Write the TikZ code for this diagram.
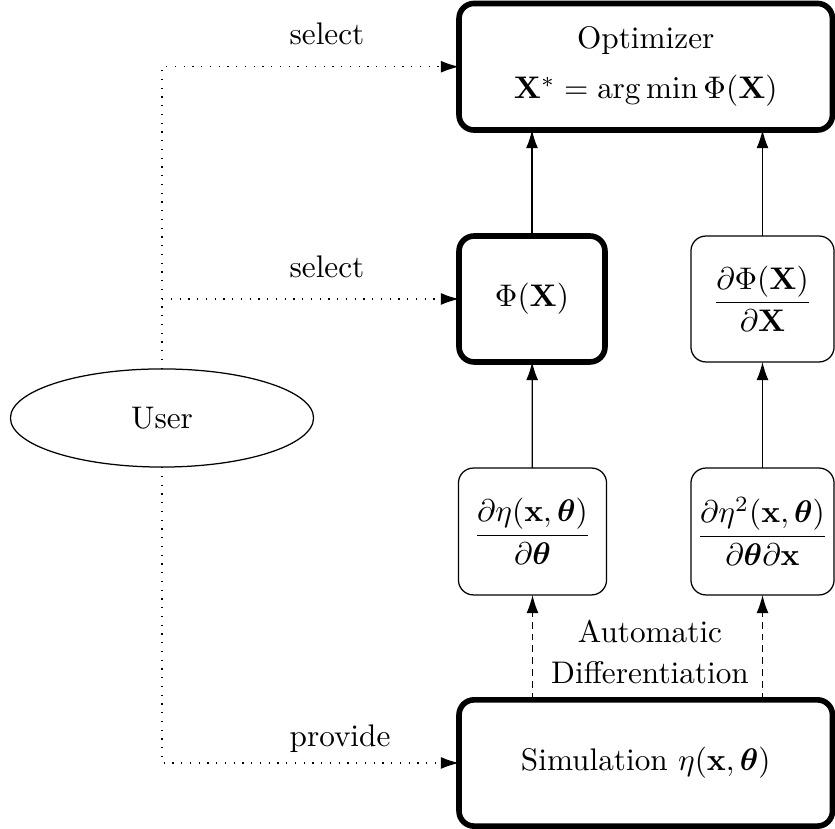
\documentclass[tikz,border=0pt]{standalone}
\usepackage{amsmath}
\usepackage{bm}
\usetikzlibrary{arrows.meta,shapes.geometric}

\tikzset{
  boldbox/.style={draw, line width=1.8pt, rounded corners=4.8pt, align=center,
    inner sep=0pt, outer sep=0pt},
  thinbox/.style={draw, line width=0.4pt, rounded corners=4.8pt, align=center,
    inner sep=0pt, outer sep=0pt},
  tip/.style={-{Latex[length=5.8pt,width=3.8pt]}},
  flow/.style={tip, line width=0.4pt},
  autodiff/.style={tip, line width=0.4pt, dash pattern=on 2.2pt off 1.6pt},
  userlink/.style={tip, line width=0.4pt, dash pattern=on 0.45pt off 2.35pt},
  linklabel/.style={anchor=base west, inner sep=0pt}
}

\begin{document}
\begin{tikzpicture}[x=0.32pt, y=-0.32pt]
  \useasboundingbox (0,0) rectangle (835,829);

  % main boxes
  \node[boldbox, minimum width=119.5pt, minimum height=40.5pt] (opt) at (645.75,66.75)
    {Optimizer\\[4pt] $\mathbf{X}^{*} = \arg\min \Phi(\mathbf{X})$};
  \node[boldbox, minimum width=46.7pt, minimum height=40.3pt] (phi) at (532,299)
    {$\Phi(\mathbf{X})$};
  \node[thinbox, minimum width=45.8pt, minimum height=40.3pt] (dphi) at (762.5,299)
    {$\dfrac{\partial \Phi(\mathbf{X})}{\partial \mathbf{X}}$};
  \node[thinbox, minimum width=47.4pt, minimum height=40.6pt] (deta) at (532.5,531.5)
    {$\dfrac{\partial \eta(\mathbf{x},\bm{\theta})}{\partial \bm{\theta}}$};
  \node[thinbox, minimum width=45.8pt, minimum height=40.6pt] (ddeta) at (762.5,531.5)
    {$\dfrac{\partial \eta^{2}(\mathbf{x},\bm{\theta})}{\partial \bm{\theta}\partial \mathbf{x}}$};
  \node[boldbox, minimum width=119.5pt, minimum height=40.4pt] (sim) at (645.75,763)
    {Simulation $\eta(\mathbf{x},\bm{\theta})$};

  % user
  \node[draw, ellipse, line width=0.4pt, inner sep=0pt, outer sep=0pt,
        minimum width=97pt, minimum height=31.4pt] (user) at (162,418) {User};

  % upward flow
  \draw[flow] (phi) -- (opt.south -| phi);
  \draw[flow] (dphi) -- (opt.south -| dphi);
  \draw[flow] (deta) -- (phi);
  \draw[flow] (ddeta) -- (dphi);
  \draw[autodiff] (sim.north -| deta) -- (deta);
  \draw[autodiff] (sim.north -| ddeta) -- (ddeta);
  \node[align=center, inner sep=0pt] (ad) at (650,652)
    {Automatic\\[1pt] Differentiation};

  % user links
  \draw[userlink] (user.north) |- (opt.west);
  \draw[userlink] (user.north) |- (phi.west);
  \draw[userlink] (user.south) |- (sim.west);
  \node[linklabel] (sel1) at (289,45) {select};
  \node[linklabel] (sel2) at (289,278) {select};
  \node[linklabel] (prov) at (289,747) {provide};
\end{tikzpicture}
\end{document}
